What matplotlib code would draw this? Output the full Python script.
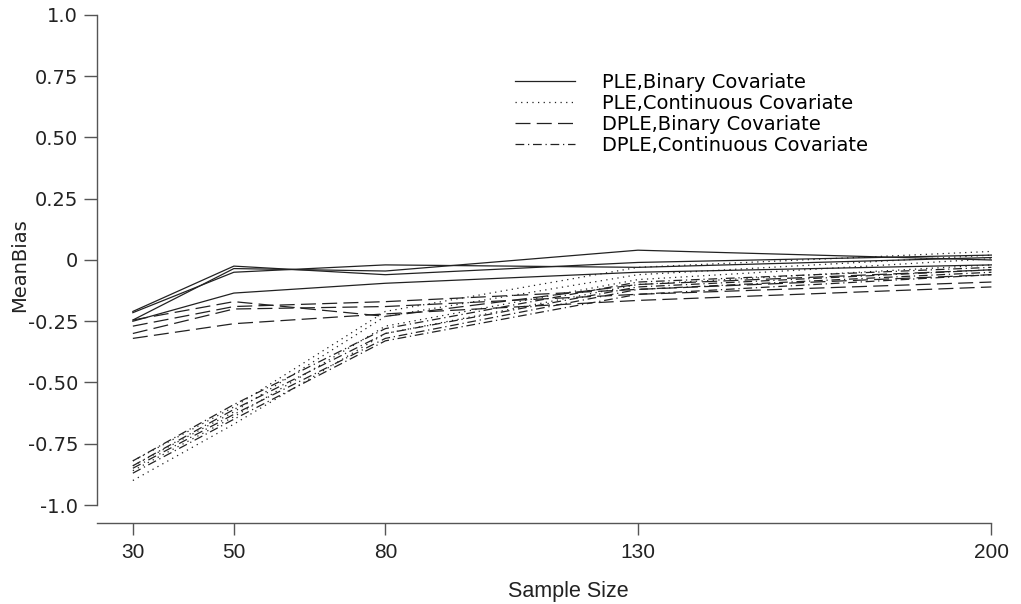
import numpy as np
import matplotlib.pyplot as plt

# sample sizes
sizes = [30, 50, 80, 130, 200]

# mean bias, four settings per estimator/covariate
ple_binary = [
    [-0.21, -0.025, -0.06, -0.01, 0.02],
    [-0.215, -0.05, -0.02, -0.03, 0.01],
    [-0.245, -0.035, -0.045, 0.04, 0.00],
    [-0.25, -0.135, -0.095, -0.05, -0.02],
]
ple_cont = [
    [-0.82, -0.60, -0.21, -0.03, 0.035],
    [-0.84, -0.62, -0.23, -0.06, 0.02],
    [-0.86, -0.64, -0.27, -0.08, 0.005],
    [-0.90, -0.67, -0.30, -0.10, -0.02],
]
dple_binary = [
    [-0.245, -0.17, -0.23, -0.10, -0.04],
    [-0.27, -0.19, -0.17, -0.12, -0.06],
    [-0.30, -0.20, -0.19, -0.14, -0.09],
    [-0.32, -0.26, -0.22, -0.165, -0.11],
]
dple_cont = [
    [-0.82, -0.59, -0.28, -0.09, -0.03],
    [-0.84, -0.61, -0.30, -0.11, -0.04],
    [-0.85, -0.63, -0.32, -0.12, -0.05],
    [-0.87, -0.65, -0.33, -0.14, -0.06],
]

labels = ['PLE,Binary Covariate', 'PLE,Continuous Covariate',
          'DPLE,Binary Covariate', 'DPLE,Continuous Covariate']
y_ticks = [1.0, 0.75, 0.5, 0.25, 0, -0.25, -0.5, -0.75, -1.0]
y_ticklabels = ['1.0', '0.75', '0.50', '0.25', '0', '-0.25', '-0.50', '-0.75', '-1.0']

styles = ['-', (0, (1, 3.5)), (0, (12, 5)), (0, (7, 3, 1, 3))]
groups = [ple_binary, ple_cont, dple_binary, dple_cont]

fig = plt.figure(figsize=(10.21, 6.04), dpi=100)
ax = fig.add_axes([0.095, 0.1639, 0.877, 0.8113])

col = '#222222'
for grp, ls, lab in zip(groups, styles, labels):
    for i, vals in enumerate(grp):
        ax.plot(sizes, vals, linestyle=ls, color=col, lw=0.9,
                label=lab if i == 0 else None)

ax.set_xlim(22.9, 200.2)
ax.set_ylim(-1, 1)

for s in ['top', 'right']:
    ax.spines[s].set_visible(False)
ax.spines['left'].set_bounds(-1, 1)
ax.spines['bottom'].set_position(('outward', 13))
ax.spines['bottom'].set_bounds(22.9, 200)
for s in ['left', 'bottom']:
    ax.spines[s].set_color('#555555')
    ax.spines[s].set_linewidth(1.0)

ax.set_yticks(y_ticks)
ax.set_yticklabels(y_ticklabels, fontsize=14, family='DejaVu Sans')
ax.set_xticks(sizes)
ax.set_xticklabels([str(s) for s in sizes], fontsize=15, family='Liberation Sans')
ax.tick_params(axis='y', length=9.5, width=1.0, color='#555555', pad=4, labelcolor='#222222')
ax.tick_params(axis='x', length=8.5, width=1.0, color='#555555', pad=6, labelcolor='#222222')

ax.set_xlabel('Sample Size', fontsize=15.5, family='Liberation Sans', color='#222222')
ax.xaxis.set_label_coords(0.526, -0.155)
ax.set_ylabel('MeanBias', fontsize=14, family='DejaVu Sans', color='#222222')
ax.yaxis.set_label_coords(-0.076, 0.49)

ax.legend(loc='upper left', bbox_to_anchor=(0.467, 0.882), frameon=False,
          prop={'family': 'DejaVu Sans', 'size': 14},
          handlelength=3.1, handletextpad=1.35, labelspacing=0.1,
          borderpad=0, borderaxespad=0)

fig.savefig('out.png', dpi=100)
